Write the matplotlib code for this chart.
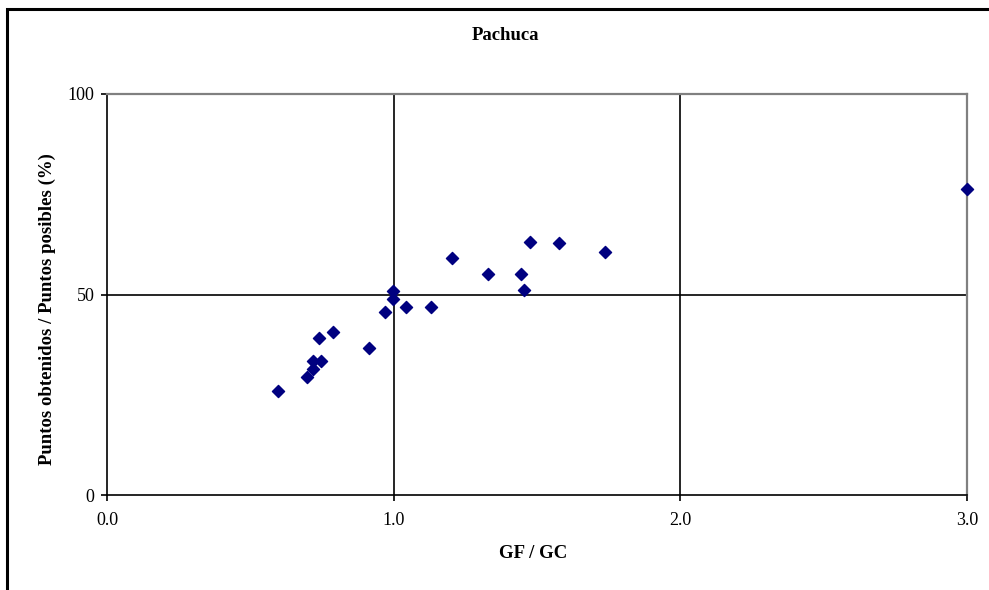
import matplotlib.pyplot as plt
from matplotlib.patches import Rectangle

# GF / GC y porcentaje de puntos obtenidos (Pachuca)
gf_gc = [0.598, 0.696, 0.717, 0.717, 0.747, 0.740, 0.787, 0.913, 0.970, 0.998,
         0.998, 1.044, 1.129, 1.204, 1.330, 1.445, 1.456, 1.474, 1.576, 1.737, 3.0]
puntos = [25.9, 29.4, 31.3, 33.4, 33.4, 39.1, 40.7, 36.7, 45.6, 50.9,
          48.8, 46.8, 46.8, 59.1, 55.0, 55.0, 51.0, 63.2, 62.8, 60.7, 76.2]

x_ticks = [0.0, 1.0, 2.0, 3.0]
y_ticks = [0, 50, 100]

plt.rcParams['font.family'] = ['Liberation Serif', 'DejaVu Serif']

fig = plt.figure(figsize=(9.89, 5.90), dpi=100)
ax = fig.add_axes([107 / 989, 1 - 495 / 590, (967 - 107) / 989, (495 - 94) / 590])

# marco exterior (cortado a la derecha y abajo)
fig.patches.append(Rectangle((6.5 / 989, -0.05), 1.2, 1 - 9 / 590 + 0.05,
                             transform=fig.transFigure, fill=False,
                             edgecolor='black', linewidth=2.2))

# líneas de referencia
for xv in [1.0, 2.0]:
    ax.axvline(xv, color='black', linewidth=1.2, zorder=1)
ax.axhline(50, color='black', linewidth=1.2, zorder=1)

ax.scatter(gf_gc, puntos, marker='D', s=38, color='#000080', zorder=3,
           clip_on=False)

ax.set_xlim(0, 3)
ax.set_ylim(0, 100)
ax.set_xticks(x_ticks)
ax.set_xticklabels([f"{v:.1f}" for v in x_ticks])
ax.set_yticks(y_ticks)

ax.spines['left'].set_color('black')
ax.spines['bottom'].set_color('black')
ax.spines['left'].set_linewidth(1.2)
ax.spines['bottom'].set_linewidth(1.2)
ax.spines['top'].set_color('#808080')
ax.spines['right'].set_color('#808080')
ax.spines['top'].set_linewidth(1.6)
ax.spines['right'].set_linewidth(1.6)

ax.tick_params(axis='both', direction='out', length=4, width=1.2,
               labelsize=13, colors='black')
ax.tick_params(axis='x', pad=8)
ax.tick_params(axis='y', pad=5)

# textos
fig.text(505 / 989, 1 - 35 / 590, "Pachuca", fontsize=13.5, fontweight='bold',
         ha='center', va='center')
fig.text(533 / 989, 1 - 553 / 590, "GF / GC", fontsize=13.5, fontweight='bold',
         ha='center', va='center')
fig.text(47 / 989, 1 - 309 / 590, "Puntos obtenidos / Puntos posibles (%)",
         fontsize=13.5, fontweight='bold', rotation=90, ha='center', va='center')

fig.savefig("out.png", dpi=100)
